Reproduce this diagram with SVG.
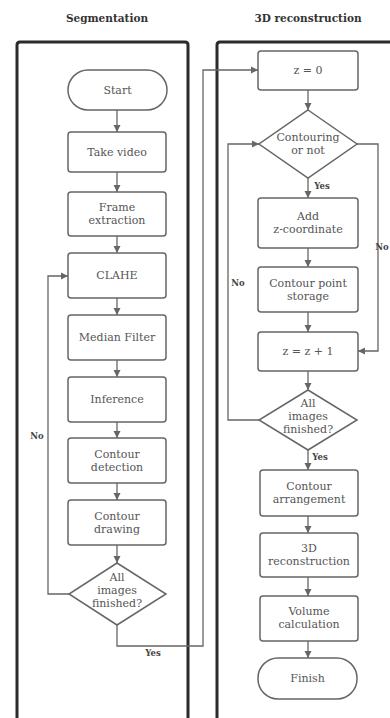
<svg xmlns="http://www.w3.org/2000/svg" width="390" height="718" viewBox="0 0 390 718">
<style>
.panel{fill:none;stroke:#2b2b2b;stroke-width:3}
.node{fill:#fff;stroke:#666;stroke-width:1.5}
.t{font-family:"DejaVu Serif",serif;font-size:11px;fill:#555;text-anchor:middle}
.title{font-family:"DejaVu Serif",serif;font-size:10.5px;font-weight:bold;fill:#333;text-anchor:middle}
.lbl{font-family:"DejaVu Serif",serif;font-size:8.5px;font-weight:bold;fill:#444;text-anchor:middle}
.c{fill:none;stroke:#666;stroke-width:1.3}
</style>
<defs>
<marker id="ah" markerWidth="8" markerHeight="8" refX="7" refY="4" orient="auto" markerUnits="userSpaceOnUse">
<path d="M0,0.5 L7,4 L0,7.5 Z" fill="#666"/>
</marker>
</defs>
<rect width="390" height="718" fill="#fff"/>
<text class="title" x="107" y="22">Segmentation</text>
<text class="title" x="308" y="22">3D reconstruction</text>
<path class="panel" d="M17,725 V45 Q17,42 20,42 H185 Q188,42 188,45 V725"/>
<path class="panel" d="M217,725 V45 Q217,42 220,42 H400"/>
<g id="connectors">
<path class="c" d="M117,110 V132" marker-end="url(#ah)"/>
<path class="c" d="M117,172 V192" marker-end="url(#ah)"/>
<path class="c" d="M117,236 V253" marker-end="url(#ah)"/>
<path class="c" d="M117,298 V315" marker-end="url(#ah)"/>
<path class="c" d="M117,360 V377" marker-end="url(#ah)"/>
<path class="c" d="M117,422 V438" marker-end="url(#ah)"/>
<path class="c" d="M117,483 V500" marker-end="url(#ah)"/>
<path class="c" d="M117,545 V563" marker-end="url(#ah)"/>
<path class="c" d="M69,594 H48 V276 H68" marker-end="url(#ah)"/>
<path class="c" d="M117,625 V646 H203 V70 H258" marker-end="url(#ah)"/>
<path class="c" d="M308,90 V110" marker-end="url(#ah)"/>
<path class="c" d="M308,178 V198" marker-end="url(#ah)"/>
<path class="c" d="M308,248 V267" marker-end="url(#ah)"/>
<path class="c" d="M308,312 V332" marker-end="url(#ah)"/>
<path class="c" d="M308,371 V390" marker-end="url(#ah)"/>
<path class="c" d="M308,450 V470" marker-end="url(#ah)"/>
<path class="c" d="M308,516 V533" marker-end="url(#ah)"/>
<path class="c" d="M308,577 V596" marker-end="url(#ah)"/>
<path class="c" d="M308,641 V658" marker-end="url(#ah)"/>
<path class="c" d="M259,420 H228 V144 H259" marker-end="url(#ah)"/>
<path class="c" d="M357,144 H378 V351 H358" marker-end="url(#ah)"/>
<text class="lbl" x="37" y="439">No</text>
<text class="lbl" x="153" y="656">Yes</text>
<text class="lbl" x="322" y="189">Yes</text>
<text class="lbl" x="382" y="250">No</text>
<text class="lbl" x="238" y="286">No</text>
<text class="lbl" x="320" y="460">Yes</text>
</g>
<g id="start"><rect class="node" x="68" y="70" width="99" height="40" rx="20"/><text class="t" x="117.5" y="94">Start</text></g>
<g id="take-video"><rect class="node" x="68" y="132" width="98" height="40" rx="3"/><text class="t" x="117" y="156">Take video</text></g>
<g id="frame-extraction"><rect class="node" x="68" y="192" width="98" height="44" rx="3"/><text class="t" x="117" y="211">Frame</text><text class="t" x="117" y="224">extraction</text></g>
<g id="clahe"><rect class="node" x="68" y="253" width="98" height="45" rx="3"/><text class="t" x="117" y="279">CLAHE</text></g>
<g id="median-filter"><rect class="node" x="68" y="315" width="98" height="45" rx="3"/><text class="t" x="117" y="341">Median Filter</text></g>
<g id="inference"><rect class="node" x="68" y="377" width="98" height="45" rx="3"/><text class="t" x="117" y="403">Inference</text></g>
<g id="contour-detection"><rect class="node" x="68" y="438" width="98" height="45" rx="3"/><text class="t" x="117" y="458">Contour</text><text class="t" x="117" y="471">detection</text></g>
<g id="contour-drawing"><rect class="node" x="68" y="500" width="98" height="45" rx="3"/><text class="t" x="117" y="520">Contour</text><text class="t" x="117" y="533">drawing</text></g>
<g id="all-images-left"><path class="node" d="M117,563 L166,594 L117,625 L69,594 Z"/><text class="t" x="117" y="581">All</text><text class="t" x="117" y="594">images</text><text class="t" x="117" y="607">finished?</text></g>
<g id="z0"><rect class="node" x="258" y="51" width="100" height="39" rx="3"/><text class="t" x="308" y="74">z = 0</text></g>
<g id="contouring"><path class="node" d="M308,110 L357,144 L308,178 L259,144 Z"/><text class="t" x="308" y="141">Contouring</text><text class="t" x="308" y="154">or not</text></g>
<g id="add-z"><rect class="node" x="258" y="198" width="100" height="50" rx="3"/><text class="t" x="308" y="220">Add</text><text class="t" x="308" y="233">z-coordinate</text></g>
<g id="storage"><rect class="node" x="258" y="267" width="100" height="45" rx="3"/><text class="t" x="308" y="287">Contour point</text><text class="t" x="308" y="300">storage</text></g>
<g id="z-inc"><rect class="node" x="258" y="332" width="100" height="39" rx="3"/><text class="t" x="308" y="355">z = z + 1</text></g>
<g id="all-images-right"><path class="node" d="M308,390 L357,420 L308,450 L259,420 Z"/><text class="t" x="308" y="407">All</text><text class="t" x="308" y="420">images</text><text class="t" x="308" y="433">finished?</text></g>
<g id="arrangement"><rect class="node" x="260" y="470" width="98" height="46" rx="3"/><text class="t" x="309" y="490">Contour</text><text class="t" x="309" y="503">arrangement</text></g>
<g id="reconstruction"><rect class="node" x="260" y="533" width="98" height="44" rx="3"/><text class="t" x="309" y="552">3D</text><text class="t" x="309" y="565">reconstruction</text></g>
<g id="volume"><rect class="node" x="260" y="596" width="98" height="45" rx="3"/><text class="t" x="309" y="615">Volume</text><text class="t" x="309" y="628">calculation</text></g>
<g id="finish"><rect class="node" x="258" y="658" width="99" height="41" rx="20"/><text class="t" x="307.5" y="682">Finish</text></g>
</svg>
